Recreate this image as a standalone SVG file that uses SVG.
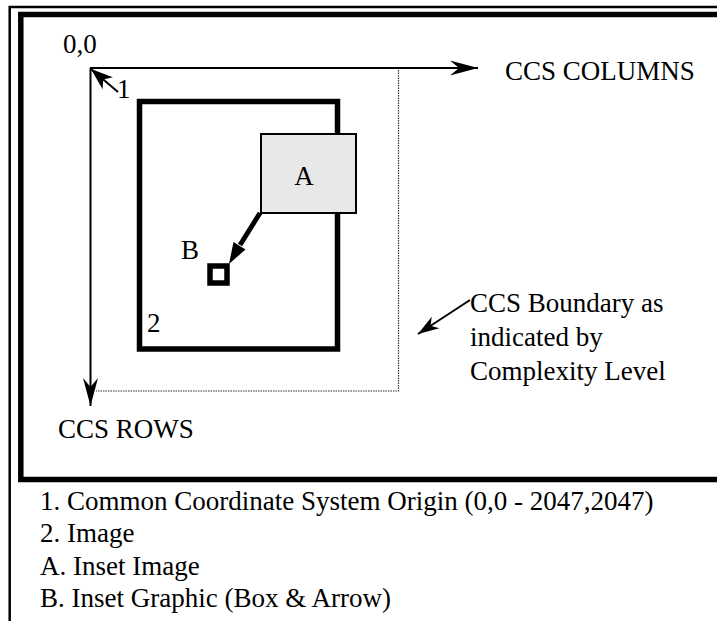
<svg xmlns="http://www.w3.org/2000/svg" width="717" height="621" viewBox="0 0 717 621">
<style>
text{font-family:"Liberation Serif","Times New Roman",serif;font-size:27px;fill:#000}
.thin{fill:none;stroke:#000;stroke-width:2.5}
.thick{fill:none;stroke:#000;stroke-width:5.5}
.axis{fill:none;stroke:#000;stroke-width:2}
.dot{fill:none;stroke:#333;stroke-width:1.2;stroke-dasharray:1.5 1}
</style>
<defs>
<marker id="barb" markerUnits="userSpaceOnUse" orient="auto" refX="0" refY="0" markerWidth="40" markerHeight="20" overflow="visible">
<path d="M0,0 L-28,-7.5 L-19,0 L-28,7.5 Z" fill="#000"/>
</marker>
<marker id="barbS" markerUnits="userSpaceOnUse" orient="auto" refX="0" refY="0" markerWidth="30" markerHeight="20" overflow="visible">
<path d="M0,0 L-21,-7 L-15,0 L-21,7 Z" fill="#000"/>
</marker>
<marker id="barbM" markerUnits="userSpaceOnUse" orient="auto" refX="0" refY="0" markerWidth="30" markerHeight="20" overflow="visible">
<path d="M0,0 L-22,-8 L-16,0 L-22,8 Z" fill="#000"/>
</marker>
</defs>
<g id="frame">
<path class="thin" d="M9.7,621 V7 H717"/>
<path class="thick" d="M717,14.5 H20.8 V479.5 H717"/>
</g>
<g id="boundary">
<path class="dot" d="M398.5,70 V391 H96"/>
</g>
<g id="image">
<rect x="139.5" y="101.5" width="198" height="247.5" class="thick" stroke-width="5"/>
<text x="147" y="332">2</text>
</g>
<g id="inset-image">
<rect x="261" y="134" width="95" height="79" fill="#e8e8e8" stroke="#000" stroke-width="2"/>
<text x="304" y="185" text-anchor="middle">A</text>
</g>
<g id="inset-graphic">
<rect x="210" y="266" width="17" height="17" fill="#fff" stroke="#000" stroke-width="5.5"/>
<text x="181" y="259">B</text>
</g>
<g id="connectors">
<path class="axis" d="M90,68 H478" marker-end="url(#barb)"/>
<path class="axis" d="M90.5,68 V406" marker-end="url(#barb)"/>
<path class="axis" d="M118,92 L91,69" marker-end="url(#barbM)"/>
<path fill="none" stroke="#000" stroke-width="5" d="M260,213 L240,245"/>
<path d="M229,264 L245.5,249.5 L233.5,242 Z" fill="#000"/>
<path class="axis" d="M470,300 L418,334" marker-end="url(#barbS)"/>
</g>
<g id="labels">
<text x="63" y="53">0,0</text>
<text x="117" y="98">1</text>
<text x="505" y="80">CCS COLUMNS</text>
<text x="58" y="438">CCS ROWS</text>
<text x="470" y="312">CCS Boundary as</text>
<text x="470" y="346">indicated by</text>
<text x="470" y="380">Complexity Level</text>
</g>
<g id="legend">
<text x="40" y="510">1. Common Coordinate System Origin (0,0 - 2047,2047)</text>
<text x="40" y="542">2. Image</text>
<text x="40" y="575">A. Inset Image</text>
<text x="40" y="607">B. Inset Graphic (Box &amp; Arrow)</text>
</g>
</svg>
